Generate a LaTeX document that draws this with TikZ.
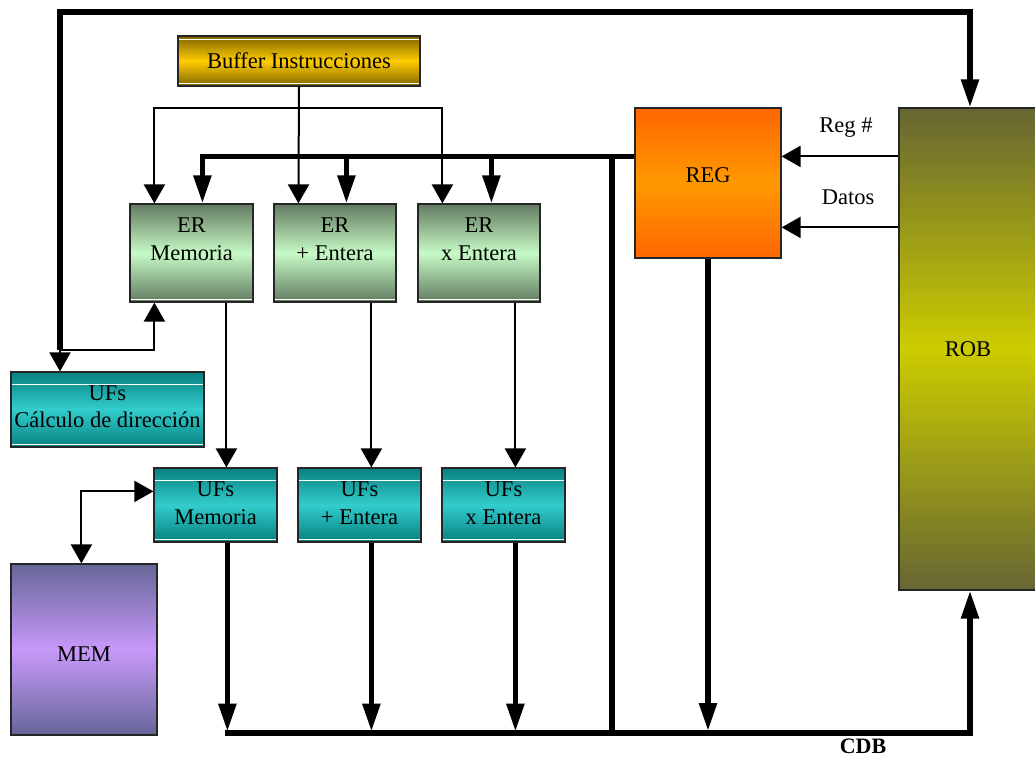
\documentclass[tikz,border=0pt]{standalone}
\usepackage{fontspec}
\setmainfont{Liberation Serif}
\usetikzlibrary{arrows.meta,calc}
\definecolor{bufE}{HTML}{7F6500}
\definecolor{bufM}{HTML}{FFCC00}
\definecolor{erE}{HTML}{637A60}
\definecolor{erM}{HTML}{C6FAC6}
\definecolor{tealE}{HTML}{078080}
\definecolor{tealM}{HTML}{33CCCC}
\definecolor{regE}{HTML}{FF6600}
\definecolor{regM}{HTML}{FF9900}
\definecolor{robE}{HTML}{666633}
\definecolor{robM}{HTML}{CCCC00}
\definecolor{memE}{HTML}{666699}
\definecolor{memM}{HTML}{C899FA}
\begin{document}
\begin{tikzpicture}[x=1pt,y=-1pt,
  bus/.style={line width=5.5pt},
  sig/.style={line width=2pt},
  BusTip/.tip={Triangle[length=28pt,width=17pt]},
  SigTip/.tip={Triangle[length=19pt,width=21pt]},
  txt/.style={font=\fontsize{22.5}{27.5}\selectfont, align=center, inner sep=0pt},
  box/.style={draw=black!85, line width=1.2pt, inner sep=0pt},
  bufbox/.style={box, top color=bufE, bottom color=bufE, middle color=bufM,
    minimum width=242pt, minimum height=50pt,
    path picture={
      \draw[white,line width=1pt] ([yshift=-3pt]path picture bounding box.north west) -- ([yshift=-3pt]path picture bounding box.north east);
      \draw[white,line width=1pt] ([yshift=3pt]path picture bounding box.south west) -- ([yshift=3pt]path picture bounding box.south east);}},
  erbox/.style={box, top color=erE, bottom color=erE, middle color=erM,
    minimum height=98pt,
    path picture={
      \draw[white,line width=1pt] ([yshift=3pt]path picture bounding box.south west) -- ([yshift=3pt]path picture bounding box.south east);}},
  ufbox/.style={box, top color=tealE, bottom color=tealE, middle color=tealM,
    path picture={
      \draw[white,line width=1pt] ([yshift=-12pt]path picture bounding box.north west) -- ([yshift=-12pt]path picture bounding box.north east);
      \draw[white,line width=1pt] ([yshift=3pt]path picture bounding box.south west) -- ([yshift=3pt]path picture bounding box.south east);}},
  regbox/.style={box, top color=regE, bottom color=regE, middle color=regM},
  robbox/.style={box, top color=robE, bottom color=robE, middle color=robM},
  membox/.style={box, top color=memE, bottom color=memE, middle color=memM}
]
\useasboundingbox (0,0) rectangle (1035,758);

% boxes
\node[bufbox, label={[txt]center:Buffer Instrucciones}] (buf) at (299,61) {};
\node[regbox, minimum width=146pt, minimum height=150pt,
      label={[txt,yshift=8pt]center:REG}] (reg) at (708,183) {};
\node[robbox, minimum width=142pt, minimum height=482pt,
      label={[txt,xshift=-2pt]center:ROB}] (rob) at (970,349) {};
\node[erbox, minimum width=123pt, label={[txt,yshift=14pt]center:ER\\Memoria}] (ermem) at (191.5,253) {};
\node[erbox, minimum width=122pt, label={[txt,yshift=14pt]center:ER\\+ Entera}] (erint) at (335,253) {};
\node[erbox, minimum width=122pt, label={[txt,yshift=14pt]center:ER\\x Entera}] (ermul) at (479,253) {};
\node[ufbox, minimum width=193pt, minimum height=75pt,
      label={[txt,yshift=3pt]center:UFs\\Cálculo de dirección}] (ufcalc) at (107.5,409.5) {};
\node[ufbox, minimum width=123pt, minimum height=74pt,
      label={[txt,yshift=2pt]center:UFs\\Memoria}] (ufmem) at (215.5,505) {};
\node[ufbox, minimum width=123pt, minimum height=74pt,
      label={[txt,yshift=2pt]center:UFs\\+ Entera}] (ufint) at (359.5,505) {};
\node[ufbox, minimum width=123pt, minimum height=74pt,
      label={[txt,yshift=2pt]center:UFs\\x Entera}] (ufmul) at (503.5,505) {};
\node[membox, minimum width=146pt, minimum height=171pt,
      label={[txt,yshift=-5pt]center:MEM}] (mem) at (84,649.5) {};

% free labels
\node[txt, anchor=base] (lreg) at (846,132) {Reg \#};
\node[txt, anchor=base] (ldat) at (848,204) {Datos};
\node[txt, font=\fontsize{22}{27.5}\selectfont\bfseries, anchor=base] (lcdb) at (863,753) {CDB};

% coordinates
\coordinate (jL) at (60,350);
\coordinate (tl) at (60,12);
\coordinate (bj) at (299,108);
\coordinate (rj) at ($(reg.north west)+(0,49)$);
\coordinate (vj) at (612,157);
\coordinate (cdbL) at (225,733);
\coordinate (cdbR) at (970,733);

% top loop to ROB
\draw[bus,-BusTip] (jL) -- (tl) -| (rob.north);
\draw[sig,-SigTip] (jL) -- (jL |- ufcalc.north);
\draw[sig,-SigTip] (jL) -| ($(ermem.south west)+(25,0)$);

% instruction buffer
\draw[sig,-SigTip] (buf.south) -- ($(erint.north west)+(25,0)$);
\draw[sig,-SigTip] (bj) -| ($(ermem.north west)+(25,0)$);
\draw[sig,-SigTip] (bj) -| ($(ermul.north west)+(25,0)$);

% register bus
\draw[bus,-BusTip] (rj) -| ($(ermem.north west)+(73,0)$);
\draw[bus,-BusTip] ($(erint.north west)+(73,-47)$) -- ($(erint.north west)+(73,0)$);
\draw[bus,-BusTip] ($(ermul.north west)+(74,-47)$) -- ($(ermul.north west)+(74,0)$);
\draw[bus] (vj) -- (vj |- cdbL);

% ROB -> REG
\draw[sig,-SigTip] ($(rob.north west)+(0,49)$) -- ($(reg.north east)+(0,49)$);
\draw[sig,-SigTip] ($(rob.north west)+(0,120)$) -- ($(reg.north east)+(0,120)$);

% ER -> UFs
\draw[sig,-SigTip] ($(ermem.south west)+(97,0)$) -- ($(ufmem.north west)+(73,0)$);
\draw[sig,-SigTip] ($(erint.south west)+(98,0)$) -- ($(ufint.north west)+(74,0)$);
\draw[sig,-SigTip] ($(ermul.south west)+(98,0)$) -- ($(ufmul.north west)+(74,0)$);

% memory
\draw[sig,SigTip-SigTip] ($(ufmem.north west)+(0,24)$) -| ($(mem.north west)+(71,0)$);

% UFs -> CDB
\draw[bus,-BusTip] ($(ufmem.south west)+(74,0)$) -- ++(0,189);
\draw[bus,-BusTip] ($(ufint.south west)+(74,0)$) -- ++(0,189);
\draw[bus,-BusTip] ($(ufmul.south west)+(74,0)$) -- ++(0,189);
\draw[bus,-BusTip] (reg.south) -- ($(reg.south |- cdbL)+(0,-2)$);

% CDB
\draw[bus,-BusTip] (cdbL) -- (cdbR) -- (rob.south);
\end{tikzpicture}
\end{document}
